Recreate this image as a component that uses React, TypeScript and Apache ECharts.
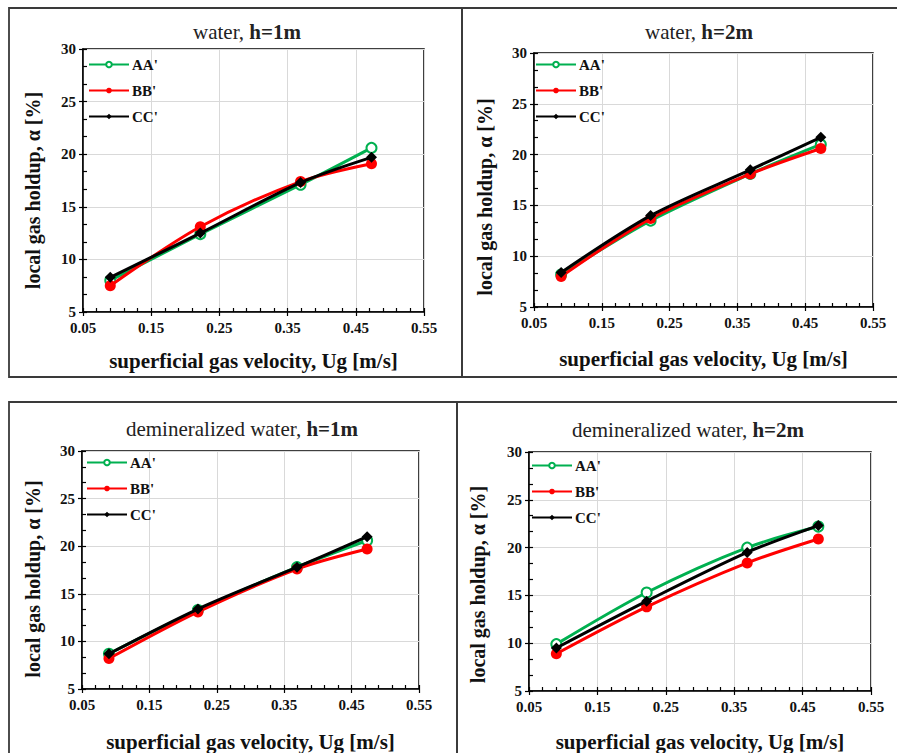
import React, { useEffect, useRef } from "react";
import * as echarts from "echarts";

// superficial gas velocity, Ug [m/s]
const UG = [0.09, 0.222, 0.369, 0.473];

// local gas holdup [%]
const W1_AA = [8.0, 12.4, 17.1, 20.6];
const W1_BB = [7.5, 13.1, 17.4, 19.1];
const W1_CC = [8.3, 12.5, 17.3, 19.7];

const W2_AA = [8.2, 13.5, 18.1, 21.0];
const W2_BB = [8.0, 13.7, 18.1, 20.6];
const W2_CC = [8.4, 14.0, 18.5, 21.7];

const D1_AA = [8.7, 13.3, 17.8, 20.6];
const D1_BB = [8.2, 13.1, 17.6, 19.7];
const D1_CC = [8.7, 13.4, 17.8, 21.0];

const D2_AA = [9.9, 15.3, 20.0, 22.2];
const D2_BB = [8.9, 13.8, 18.4, 20.9];
const D2_CC = [9.5, 14.4, 19.5, 22.3];

const SERIES_NAMES = ["AA'", "BB'", "CC'"];
const PANEL_LIQUIDS = ["water, ", "water, ", "demineralized water, ", "demineralized water, "];
const PANEL_HEIGHTS = ["h=1m", "h=2m", "h=1m", "h=2m"];
const PANEL_DATA = [
  [W1_AA, W1_BB, W1_CC],
  [W2_AA, W2_BB, W2_CC],
  [D1_AA, D1_BB, D1_CC],
  [D2_AA, D2_BB, D2_CC],
];

const X_MIN = 0.05;
const X_MAX = 0.55;
const X_STEP = 0.1;
const Y_MIN = 5;
const Y_MAX = 30;
const Y_STEP = 5;

const X_TITLE = "superficial gas velocity, Ug [m/s]";
const Y_TITLE = "local gas holdup, \u03b1 [%]";

const FONT = "'Liberation Serif', 'Times New Roman', serif";
const GREEN = "#00B050";
const RED = "#FF0000";
const BLACK = "#000000";

// layout (pixels)
const GRIDS = [
  { left: 83, top: 49, width: 341, height: 263 },
  { left: 534, top: 53, width: 339, height: 254 },
  { left: 82, top: 451, width: 337, height: 239 },
  { left: 529, top: 452, width: 342, height: 241 },
];
const FRAMES = [
  { x: 9, y: 8, w: 453, h: 369 },
  { x: 462, y: 8, w: 440, h: 369 },
  { x: 9, y: 402, w: 448, h: 360 },
  { x: 457, y: 402, w: 445, h: 360 },
];
const TITLE_POS = [
  { x: 247, y: 32 },
  { x: 699, y: 32 },
  { x: 242, y: 429 },
  { x: 688, y: 430 },
];
const LEGEND_POS = [
  { left: 88, top: 57 },
  { left: 535, top: 57 },
  { left: 86, top: 455 },
  { left: 531, top: 458 },
];
const X_NAME_GAP = [38, 41, 42, 40];
const Y_NAME_GAP = [40, 39, 39, 41];
const Y_NAME_SHIFT = [20, 34, 18, 26];

export default function App() {
  const ref = useRef<HTMLDivElement>(null);

  useEffect(() => {
    if (!ref.current) return;
    const chart = echarts.init(ref.current, undefined, { renderer: "svg" });

    const grid: any[] = [];
    const xAxis: any[] = [];
    const yAxis: any[] = [];
    const series: any[] = [];
    const legend: any[] = [];
    const graphic: any[] = [];

    GRIDS.forEach((g, i) => {
      grid.push({
        ...g,
        show: true,
        borderColor: "#000",
        borderWidth: 1.5,
        backgroundColor: "#fff",
        containLabel: false,
      });
      // primary axes (inside ticks + minor ticks + labels)
      xAxis.push({
        type: "value",
        gridIndex: i,
        min: X_MIN,
        max: X_MAX,
        interval: X_STEP,
        position: "bottom",
        name: X_TITLE,
        nameLocation: "middle",
        nameGap: X_NAME_GAP[i],
        nameTextStyle: { fontFamily: FONT, fontSize: 21, fontWeight: "bold", color: "#111" },
        axisLine: { show: true, lineStyle: { color: "#000", width: 1.5 } },
        axisTick: { show: true, inside: true, length: 4, lineStyle: { color: "#000", width: 1.2 } },
        minorTick: { show: true, splitNumber: 5, length: 4, lineStyle: { color: "#000", width: 1.2 } },
        splitLine: { show: true, lineStyle: { color: "#d9d9d9", width: 1 } },
        axisLabel: {
          fontFamily: FONT,
          fontSize: 15,
          fontWeight: "bold",
          color: "#111",
          margin: 8,
          formatter: (v: number) => v.toFixed(2),
        },
      });
      yAxis.push({
        type: "value",
        gridIndex: i,
        min: Y_MIN,
        max: Y_MAX,
        interval: Y_STEP,
        position: "left",
        name: Y_TITLE,
        nameLocation: "middle",
        nameGap: Y_NAME_GAP[i],
        nameTextStyle: {
          fontFamily: FONT,
          fontSize: 20,
          fontWeight: "bold",
          color: "#111",
          padding: [0, Y_NAME_SHIFT[i], 0, 0],
        },
        axisLine: { show: true, lineStyle: { color: "#000", width: 1.5 } },
        axisTick: { show: true, inside: true, length: 4, lineStyle: { color: "#000", width: 1.2 } },
        minorTick: { show: true, splitNumber: 3, length: 4, lineStyle: { color: "#000", width: 1.2 } },
        splitLine: { show: true, lineStyle: { color: "#d9d9d9", width: 1 } },
        axisLabel: {
          fontFamily: FONT,
          fontSize: 15,
          fontWeight: "bold",
          color: "#111",
          margin: 7,
        },
      });
    });

    // secondary axes: outside half of the crossing major ticks
    GRIDS.forEach((_g, i) => {
      xAxis.push({
        type: "value",
        gridIndex: i,
        min: X_MIN,
        max: X_MAX,
        interval: X_STEP,
        position: "bottom",
        offset: 0,
        axisLine: { show: false },
        axisTick: { show: true, inside: false, length: 4, lineStyle: { color: "#000", width: 1.2 } },
        splitLine: { show: false },
        axisLabel: { show: false },
      });
      yAxis.push({
        type: "value",
        gridIndex: i,
        min: Y_MIN,
        max: Y_MAX,
        interval: Y_STEP,
        position: "left",
        offset: 0,
        axisLine: { show: false },
        axisTick: { show: true, inside: false, length: 4, lineStyle: { color: "#000", width: 1.2 } },
        splitLine: { show: false },
        axisLabel: { show: false },
      });
    });

    PANEL_DATA.forEach((sets, i) => {
      const [aa, bb, cc] = sets;
      series.push({
        name: SERIES_NAMES[0],
        type: "line",
        xAxisIndex: i,
        yAxisIndex: i,
        data: UG.map((x, k) => [x, aa[k]]),
        smooth: 0.3,
        symbol: "circle",
        symbolSize: 10,
        lineStyle: { color: GREEN, width: 3 },
        itemStyle: { color: "#ffffff", borderColor: GREEN, borderWidth: 2 },
        z: 2,
      });
      series.push({
        name: SERIES_NAMES[1],
        type: "line",
        xAxisIndex: i,
        yAxisIndex: i,
        data: UG.map((x, k) => [x, bb[k]]),
        smooth: 0.3,
        symbol: "circle",
        symbolSize: 11,
        lineStyle: { color: RED, width: 3 },
        itemStyle: { color: RED, borderColor: RED, borderWidth: 0 },
        z: 3,
      });
      series.push({
        name: SERIES_NAMES[2],
        type: "line",
        xAxisIndex: i,
        yAxisIndex: i,
        data: UG.map((x, k) => [x, cc[k]]),
        smooth: 0.3,
        symbol: "diamond",
        symbolSize: 11,
        lineStyle: { color: BLACK, width: 3 },
        itemStyle: { color: BLACK, borderColor: BLACK, borderWidth: 0 },
        z: 4,
      });

      legend.push({
        show: true,
        data: SERIES_NAMES,
        orient: "vertical",
        left: LEGEND_POS[i].left,
        top: LEGEND_POS[i].top,
        itemWidth: 40,
        itemHeight: 7,
        itemGap: 11,
        padding: 0,
        selectedMode: false,
        textStyle: { fontFamily: FONT, fontSize: 15, fontWeight: "bold", color: "#111", padding: [0, 0, 0, -2] },
      });

      graphic.push({
        type: "rect",
        shape: { x: FRAMES[i].x, y: FRAMES[i].y, width: FRAMES[i].w, height: FRAMES[i].h },
        style: { fill: "none", stroke: "#3a3a3a", lineWidth: 1.8 },
        z: -10,
        silent: true,
      });
      graphic.push({
        type: "text",
        x: TITLE_POS[i].x,
        y: TITLE_POS[i].y,
        style: {
          text: `{n|${PANEL_LIQUIDS[i]}}{b|${PANEL_HEIGHTS[i]}}`,
          align: "center",
          verticalAlign: "middle",
          rich: {
            n: { fontFamily: FONT, fontSize: 21, fontWeight: "normal", fill: "#222" },
            b: { fontFamily: FONT, fontSize: 21, fontWeight: "bold", fill: "#222" },
          },
        },
        silent: true,
      });
    });

    chart.setOption({
      animation: false,
      backgroundColor: "#ffffff",
      grid,
      xAxis,
      yAxis,
      series,
      legend,
      graphic,
    });

    return () => chart.dispose();
  }, []);

  return (
    <div
      ref={ref}
      style={{ position: "absolute", left: 0, top: 0, width: 897, height: 753 }}
    />
  );
}
